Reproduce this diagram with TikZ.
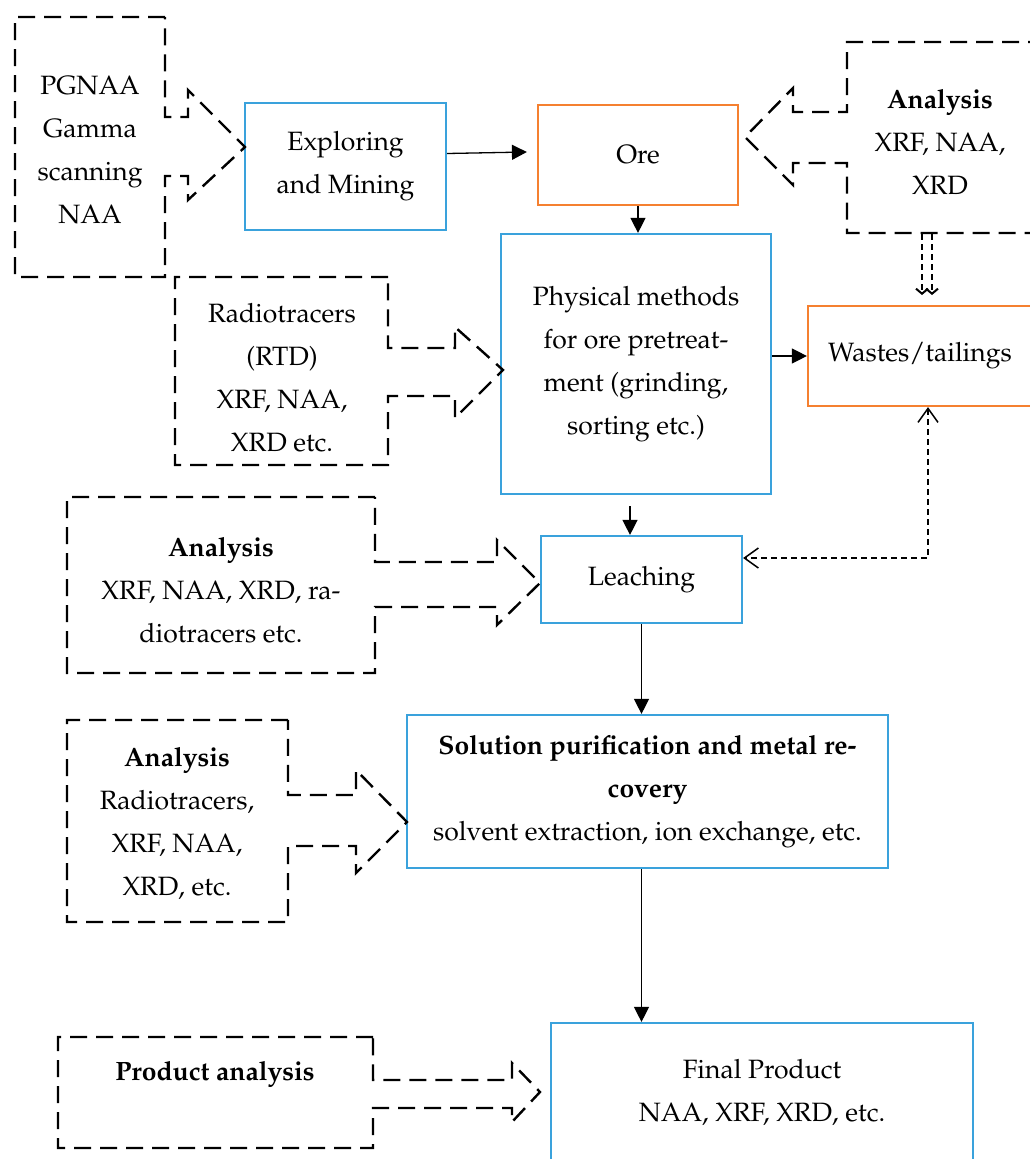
\documentclass[tikz,border=0pt]{standalone}
\usepackage[T1]{fontenc}
\usepackage{mathpazo}
\usetikzlibrary{arrows.meta}
\definecolor{boxblue}{RGB}{58,162,220}
\definecolor{boxorange}{RGB}{245,128,48}
\tikzset{
  txt/.style={align=center, inner sep=0pt, font=\fontsize{26.5}{43}\selectfont},
  bluebox/.style={draw=boxblue, line width=2.2pt, rectangle, inner sep=0pt, align=center, font=\fontsize{26.5}{43}\selectfont},
  orangebox/.style={draw=boxorange, line width=2.2pt, rectangle, inner sep=0pt, align=center, font=\fontsize{26.5}{43}\selectfont},
  callout/.style={draw=black, line width=2.4pt, dash pattern=on 17pt off 9pt, line join=miter},
  arr/.style={draw=black, line width=1.3pt, -{Triangle[length=15pt,width=15pt]}},
  thindash/.style={draw=black, line width=1.5pt, dash pattern=on 6pt off 4pt},
  openbarb/.tip={Straight Barb[length=14pt,width=20pt,line width=1.5pt]},
  smallbarb/.tip={Straight Barb[length=5pt,width=12pt,line width=2pt]}
}
\begin{document}
\begin{tikzpicture}[x=1pt,y=-1pt]
\useasboundingbox (0,0) rectangle (1030,1159);
\clip (0,0) rectangle (1030,1159);

% process boxes
\node[bluebox, minimum width=201pt, minimum height=127pt] (exp) at (345.5,166.5) {Exploring\\and Mining};
\node[orangebox, minimum width=200pt, minimum height=100pt] (ore) at (638,155) {\raisebox{-2pt}{Ore}};
\node[bluebox, minimum width=270pt, minimum height=260pt] (phys) at (636,364) {Physical methods\\for ore pretreat-\\ment (grinding,\\sorting etc.)};
\node[orangebox, minimum width=224pt, minimum height=100pt] (wastes) at (920,356) {\raisebox{-2pt}{Wastes/tailings}};
\node[bluebox, minimum width=201pt, minimum height=87pt] (leach) at (641.5,579.5) {\raisebox{-2pt}{Leaching}};
\node[bluebox, minimum width=481pt, minimum height=153pt] (sol) at (647.5,791.5) {\textbf{Solution purification and metal re-}\\\textbf{covery}\\solvent extraction, ion exchange, etc.};
\node[bluebox, minimum width=422pt, minimum height=140pt] (final) at (762,1093) {Final Product\\NAA, XRF, XRD, etc.};

% callout shapes
\draw[callout] (165,17) -| (15,277) -| (165,176) -- (188,176) -- (188,200) -- (245,147) -- (188,90) -- (188,117) -- (165,117) -- cycle;
\draw[callout] (388,277) -| (175,465) -| (388,396) -- (455,396) -- (455,418) -- (503,370) -- (455,327) -- (455,348) -- (388,348) -- cycle;
\draw[callout] (375,497) -| (67,673) -| (375,607) -- (497,607) -- (497,625) -- (540,583) -- (497,540) -- (497,562) -- (375,562) -- cycle;
\draw[callout] (288,720) -| (67,922) -| (288,846) -- (356,846) -- (356,873) -- (407,822) -- (356,770) -- (356,795) -- (288,795) -- cycle;
\draw[callout] (373,1037) -| (58,1148) -| (373,1108) -- (512,1108) -- (512,1122) -- (540,1092) -- (512,1063) -- (512,1080) -- (373,1080) -- cycle;
\draw[callout] (1045,42) -- (847,42) -- (847,112) -- (793,112) -- (793,88) -- (745,137) -- (793,185) -- (793,163) -- (847,163) -- (847,233) -- (1045,233);

% callout texts
\node[txt] (t1) at (90,150) {PGNAA\\Gamma\\scanning\\NAA};
\node[txt] (t2) at (282,378) {Radiotracers\\(RTD)\\XRF, NAA,\\XRD etc.};
\node[txt] (t3) at (221,590) {\textbf{Analysis}\\XRF, NAA, XRD, ra-\\diotracers etc.};
\node[txt] (t4) at (177,824) {\textbf{Analysis}\\Radiotracers,\\XRF, NAA,\\XRD, etc.};
\node[txt] (t5) at (215,1074) {\textbf{Product analysis}};
\node[txt] (t6) at (940,142) {\textbf{Analysis}\\XRF, NAA,\\XRD};

% connectors
\draw[arr] ([yshift=13pt]exp.east) -- ([xshift=-10pt,yshift=3pt]ore.west);
\draw[arr] (ore.south) -- (ore.south |- phys.north);
\draw[arr] (phys.east |- wastes.west) -- (wastes.west);
\draw[arr] ([xshift=-6pt,yshift=-11pt]phys.south) -- ([xshift=-6pt]phys.south |- leach.north);
\draw[arr] (leach.south) -- (leach.south |- sol.north);
\draw[arr] ([xshift=-6pt]sol.south) -- ([xshift=-6pt]sol.south |- final.north);
\draw[thindash, {openbarb}-{openbarb}] ([xshift=8pt]wastes.south) |- ([yshift=21.5pt]leach.east);

% double dashed arrow from analysis to wastes
\coordinate (dA) at (922,234);
\coordinate (dB) at (932,234);
\draw[thindash, line width=2pt, -{smallbarb}] (dA) -- (dA |- 0,295);
\draw[thindash, line width=2pt, -{smallbarb}] (dB) -- (dB |- 0,295);
\end{tikzpicture}
\end{document}
